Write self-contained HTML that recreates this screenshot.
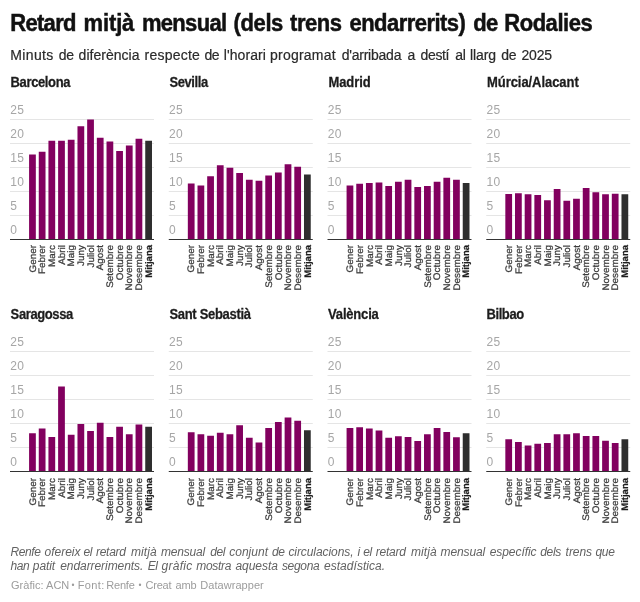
<!DOCTYPE html>
<html lang="ca"><head><meta charset="utf-8"><title>Retard mitjà mensual</title>
<style>
html,body{margin:0;padding:0;background:#fff;}
body{width:640px;height:602px;position:relative;overflow:hidden;font-family:"Liberation Sans",sans-serif;}
.t{position:absolute;white-space:nowrap;line-height:1;margin:0;}
.wl span{position:absolute;top:0;white-space:pre;}
.h1{font-weight:700;font-size:22px;color:#111;-webkit-text-stroke:0.45px #111;}
.sub{font-size:14px;color:#2a2a2a;-webkit-text-stroke:0.2px #2a2a2a;}
.pt{font-weight:700;font-size:13px;color:#1c1c1c;-webkit-text-stroke:0.25px #1c1c1c;}
.ax{font-size:12px;color:#a6a6a6;letter-spacing:0.4px;}
.gl{position:absolute;height:1px;background:#e2e2e2;}
.zl{position:absolute;height:1px;background:#333;}
.b{position:absolute;background:#82005f;}
.b.m{background:#2e2e2e;}
.xl{position:absolute;white-space:nowrap;text-rendering:geometricPrecision;-webkit-text-stroke:0.25px #3a3a3a;font-size:9.5px;line-height:10px;height:10px;color:#3a3a3a;transform-origin:0 0;transform:rotate(-90deg) scaleX(1.04) translateX(-100%);}
.xl.m{font-weight:700;color:#1d1d1d;-webkit-text-stroke:0.2px #1d1d1d;transform:rotate(-90deg) scaleX(1.0) translateX(-100%);}
.note{font-style:italic;font-size:12px;color:#626262;}
.foot{font-size:11px;color:#9c9c9c;}
</style></head><body>
<svg width="640" height="602" viewBox="0 0 640 602" style="position:absolute;left:0;top:0">
<rect x="10.00" y="119" width="144" height="1" fill="#e5e5e5"/>
<rect x="10.00" y="143" width="144" height="1" fill="#e5e5e5"/>
<rect x="10.00" y="167" width="144" height="1" fill="#e5e5e5"/>
<rect x="10.00" y="191" width="144" height="1" fill="#e5e5e5"/>
<rect x="10.00" y="215" width="144" height="1" fill="#e5e5e5"/>
<rect x="29.08" y="154.50" width="6.75" height="84.50" fill="#82005f"/>
<rect x="38.76" y="151.75" width="6.75" height="87.25" fill="#82005f"/>
<rect x="48.44" y="140.75" width="6.75" height="98.25" fill="#82005f"/>
<rect x="58.12" y="140.75" width="6.75" height="98.25" fill="#82005f"/>
<rect x="67.80" y="139.75" width="6.75" height="99.25" fill="#82005f"/>
<rect x="77.48" y="126.25" width="6.75" height="112.75" fill="#82005f"/>
<rect x="87.16" y="119.50" width="6.75" height="119.50" fill="#82005f"/>
<rect x="96.84" y="137.75" width="6.75" height="101.25" fill="#82005f"/>
<rect x="106.52" y="141.50" width="6.75" height="97.50" fill="#82005f"/>
<rect x="116.20" y="151.00" width="6.75" height="88.00" fill="#82005f"/>
<rect x="125.88" y="145.50" width="6.75" height="93.50" fill="#82005f"/>
<rect x="135.56" y="138.75" width="6.75" height="100.25" fill="#82005f"/>
<rect x="145.24" y="140.75" width="6.75" height="98.25" fill="#2e2e2e"/>
<rect x="10.00" y="239" width="144" height="1" fill="#333"/>
<rect x="168.75" y="119" width="144" height="1" fill="#e5e5e5"/>
<rect x="168.75" y="143" width="144" height="1" fill="#e5e5e5"/>
<rect x="168.75" y="167" width="144" height="1" fill="#e5e5e5"/>
<rect x="168.75" y="191" width="144" height="1" fill="#e5e5e5"/>
<rect x="168.75" y="215" width="144" height="1" fill="#e5e5e5"/>
<rect x="187.83" y="183.50" width="6.75" height="55.50" fill="#82005f"/>
<rect x="197.51" y="185.50" width="6.75" height="53.50" fill="#82005f"/>
<rect x="207.19" y="176.25" width="6.75" height="62.75" fill="#82005f"/>
<rect x="216.87" y="165.25" width="6.75" height="73.75" fill="#82005f"/>
<rect x="226.55" y="167.75" width="6.75" height="71.25" fill="#82005f"/>
<rect x="236.23" y="173.00" width="6.75" height="66.00" fill="#82005f"/>
<rect x="245.91" y="179.75" width="6.75" height="59.25" fill="#82005f"/>
<rect x="255.59" y="180.75" width="6.75" height="58.25" fill="#82005f"/>
<rect x="265.27" y="175.50" width="6.75" height="63.50" fill="#82005f"/>
<rect x="274.95" y="172.50" width="6.75" height="66.50" fill="#82005f"/>
<rect x="284.63" y="164.25" width="6.75" height="74.75" fill="#82005f"/>
<rect x="294.31" y="166.75" width="6.75" height="72.25" fill="#82005f"/>
<rect x="303.99" y="174.50" width="6.75" height="64.50" fill="#2e2e2e"/>
<rect x="168.75" y="239" width="144" height="1" fill="#333"/>
<rect x="327.50" y="119" width="144" height="1" fill="#e5e5e5"/>
<rect x="327.50" y="143" width="144" height="1" fill="#e5e5e5"/>
<rect x="327.50" y="167" width="144" height="1" fill="#e5e5e5"/>
<rect x="327.50" y="191" width="144" height="1" fill="#e5e5e5"/>
<rect x="327.50" y="215" width="144" height="1" fill="#e5e5e5"/>
<rect x="346.58" y="185.50" width="6.75" height="53.50" fill="#82005f"/>
<rect x="356.26" y="183.75" width="6.75" height="55.25" fill="#82005f"/>
<rect x="365.94" y="183.00" width="6.75" height="56.00" fill="#82005f"/>
<rect x="375.62" y="182.50" width="6.75" height="56.50" fill="#82005f"/>
<rect x="385.30" y="186.00" width="6.75" height="53.00" fill="#82005f"/>
<rect x="394.98" y="181.75" width="6.75" height="57.25" fill="#82005f"/>
<rect x="404.66" y="179.75" width="6.75" height="59.25" fill="#82005f"/>
<rect x="414.34" y="187.00" width="6.75" height="52.00" fill="#82005f"/>
<rect x="424.02" y="186.00" width="6.75" height="53.00" fill="#82005f"/>
<rect x="433.70" y="181.75" width="6.75" height="57.25" fill="#82005f"/>
<rect x="443.38" y="177.75" width="6.75" height="61.25" fill="#82005f"/>
<rect x="453.06" y="179.75" width="6.75" height="59.25" fill="#82005f"/>
<rect x="462.74" y="183.00" width="6.75" height="56.00" fill="#2e2e2e"/>
<rect x="327.50" y="239" width="144" height="1" fill="#333"/>
<rect x="486.25" y="119" width="144" height="1" fill="#e5e5e5"/>
<rect x="486.25" y="143" width="144" height="1" fill="#e5e5e5"/>
<rect x="486.25" y="167" width="144" height="1" fill="#e5e5e5"/>
<rect x="486.25" y="191" width="144" height="1" fill="#e5e5e5"/>
<rect x="486.25" y="215" width="144" height="1" fill="#e5e5e5"/>
<rect x="505.33" y="194.00" width="6.75" height="45.00" fill="#82005f"/>
<rect x="515.01" y="193.25" width="6.75" height="45.75" fill="#82005f"/>
<rect x="524.69" y="194.25" width="6.75" height="44.75" fill="#82005f"/>
<rect x="534.37" y="195.00" width="6.75" height="44.00" fill="#82005f"/>
<rect x="544.05" y="200.25" width="6.75" height="38.75" fill="#82005f"/>
<rect x="553.73" y="189.00" width="6.75" height="50.00" fill="#82005f"/>
<rect x="563.41" y="200.75" width="6.75" height="38.25" fill="#82005f"/>
<rect x="573.09" y="198.75" width="6.75" height="40.25" fill="#82005f"/>
<rect x="582.77" y="188.00" width="6.75" height="51.00" fill="#82005f"/>
<rect x="592.45" y="192.25" width="6.75" height="46.75" fill="#82005f"/>
<rect x="602.13" y="194.25" width="6.75" height="44.75" fill="#82005f"/>
<rect x="611.81" y="193.75" width="6.75" height="45.25" fill="#82005f"/>
<rect x="621.49" y="194.25" width="6.75" height="44.75" fill="#2e2e2e"/>
<rect x="486.25" y="239" width="144" height="1" fill="#333"/>
<rect x="10.00" y="351" width="144" height="1" fill="#e5e5e5"/>
<rect x="10.00" y="375" width="144" height="1" fill="#e5e5e5"/>
<rect x="10.00" y="399" width="144" height="1" fill="#e5e5e5"/>
<rect x="10.00" y="423" width="144" height="1" fill="#e5e5e5"/>
<rect x="10.00" y="447" width="144" height="1" fill="#e5e5e5"/>
<rect x="29.08" y="433.25" width="6.75" height="37.75" fill="#82005f"/>
<rect x="38.76" y="428.50" width="6.75" height="42.50" fill="#82005f"/>
<rect x="48.44" y="437.00" width="6.75" height="34.00" fill="#82005f"/>
<rect x="58.12" y="386.50" width="6.75" height="84.50" fill="#82005f"/>
<rect x="67.80" y="434.75" width="6.75" height="36.25" fill="#82005f"/>
<rect x="77.48" y="424.00" width="6.75" height="47.00" fill="#82005f"/>
<rect x="87.16" y="431.00" width="6.75" height="40.00" fill="#82005f"/>
<rect x="96.84" y="422.75" width="6.75" height="48.25" fill="#82005f"/>
<rect x="106.52" y="437.00" width="6.75" height="34.00" fill="#82005f"/>
<rect x="116.20" y="426.75" width="6.75" height="44.25" fill="#82005f"/>
<rect x="125.88" y="434.25" width="6.75" height="36.75" fill="#82005f"/>
<rect x="135.56" y="424.50" width="6.75" height="46.50" fill="#82005f"/>
<rect x="145.24" y="426.75" width="6.75" height="44.25" fill="#2e2e2e"/>
<rect x="10.00" y="471" width="144" height="1" fill="#333"/>
<rect x="168.75" y="351" width="144" height="1" fill="#e5e5e5"/>
<rect x="168.75" y="375" width="144" height="1" fill="#e5e5e5"/>
<rect x="168.75" y="399" width="144" height="1" fill="#e5e5e5"/>
<rect x="168.75" y="423" width="144" height="1" fill="#e5e5e5"/>
<rect x="168.75" y="447" width="144" height="1" fill="#e5e5e5"/>
<rect x="187.83" y="432.25" width="6.75" height="38.75" fill="#82005f"/>
<rect x="197.51" y="434.25" width="6.75" height="36.75" fill="#82005f"/>
<rect x="207.19" y="435.75" width="6.75" height="35.25" fill="#82005f"/>
<rect x="216.87" y="432.75" width="6.75" height="38.25" fill="#82005f"/>
<rect x="226.55" y="434.25" width="6.75" height="36.75" fill="#82005f"/>
<rect x="236.23" y="425.25" width="6.75" height="45.75" fill="#82005f"/>
<rect x="245.91" y="437.75" width="6.75" height="33.25" fill="#82005f"/>
<rect x="255.59" y="442.50" width="6.75" height="28.50" fill="#82005f"/>
<rect x="265.27" y="428.00" width="6.75" height="43.00" fill="#82005f"/>
<rect x="274.95" y="422.00" width="6.75" height="49.00" fill="#82005f"/>
<rect x="284.63" y="417.50" width="6.75" height="53.50" fill="#82005f"/>
<rect x="294.31" y="420.75" width="6.75" height="50.25" fill="#82005f"/>
<rect x="303.99" y="430.25" width="6.75" height="40.75" fill="#2e2e2e"/>
<rect x="168.75" y="471" width="144" height="1" fill="#333"/>
<rect x="327.50" y="351" width="144" height="1" fill="#e5e5e5"/>
<rect x="327.50" y="375" width="144" height="1" fill="#e5e5e5"/>
<rect x="327.50" y="399" width="144" height="1" fill="#e5e5e5"/>
<rect x="327.50" y="423" width="144" height="1" fill="#e5e5e5"/>
<rect x="327.50" y="447" width="144" height="1" fill="#e5e5e5"/>
<rect x="346.58" y="428.00" width="6.75" height="43.00" fill="#82005f"/>
<rect x="356.26" y="427.25" width="6.75" height="43.75" fill="#82005f"/>
<rect x="365.94" y="428.50" width="6.75" height="42.50" fill="#82005f"/>
<rect x="375.62" y="430.50" width="6.75" height="40.50" fill="#82005f"/>
<rect x="385.30" y="437.75" width="6.75" height="33.25" fill="#82005f"/>
<rect x="394.98" y="436.25" width="6.75" height="34.75" fill="#82005f"/>
<rect x="404.66" y="437.00" width="6.75" height="34.00" fill="#82005f"/>
<rect x="414.34" y="441.00" width="6.75" height="30.00" fill="#82005f"/>
<rect x="424.02" y="434.25" width="6.75" height="36.75" fill="#82005f"/>
<rect x="433.70" y="428.00" width="6.75" height="43.00" fill="#82005f"/>
<rect x="443.38" y="432.00" width="6.75" height="39.00" fill="#82005f"/>
<rect x="453.06" y="437.25" width="6.75" height="33.75" fill="#82005f"/>
<rect x="462.74" y="433.25" width="6.75" height="37.75" fill="#2e2e2e"/>
<rect x="327.50" y="471" width="144" height="1" fill="#333"/>
<rect x="486.25" y="351" width="144" height="1" fill="#e5e5e5"/>
<rect x="486.25" y="375" width="144" height="1" fill="#e5e5e5"/>
<rect x="486.25" y="399" width="144" height="1" fill="#e5e5e5"/>
<rect x="486.25" y="423" width="144" height="1" fill="#e5e5e5"/>
<rect x="486.25" y="447" width="144" height="1" fill="#e5e5e5"/>
<rect x="505.33" y="439.25" width="6.75" height="31.75" fill="#82005f"/>
<rect x="515.01" y="442.00" width="6.75" height="29.00" fill="#82005f"/>
<rect x="524.69" y="445.50" width="6.75" height="25.50" fill="#82005f"/>
<rect x="534.37" y="443.75" width="6.75" height="27.25" fill="#82005f"/>
<rect x="544.05" y="443.00" width="6.75" height="28.00" fill="#82005f"/>
<rect x="553.73" y="434.25" width="6.75" height="36.75" fill="#82005f"/>
<rect x="563.41" y="434.25" width="6.75" height="36.75" fill="#82005f"/>
<rect x="573.09" y="433.25" width="6.75" height="37.75" fill="#82005f"/>
<rect x="582.77" y="436.00" width="6.75" height="35.00" fill="#82005f"/>
<rect x="592.45" y="436.00" width="6.75" height="35.00" fill="#82005f"/>
<rect x="602.13" y="440.75" width="6.75" height="30.25" fill="#82005f"/>
<rect x="611.81" y="443.00" width="6.75" height="28.00" fill="#82005f"/>
<rect x="621.49" y="439.25" width="6.75" height="31.75" fill="#2e2e2e"/>
<rect x="486.25" y="471" width="144" height="1" fill="#333"/>
</svg>
<div class="t wl h1" style="left:0;top:11.88px;width:640px;height:22px;transform-origin:0 3.1px;transform:translateY(0.25px) scaleY(1.045);"><span style="left:10.25px;letter-spacing:-0.700px">Retard </span><span style="left:83.50px;letter-spacing:-0.125px">mitjà </span><span style="left:141.97px;letter-spacing:-0.700px">mensual </span><span style="left:233.50px;letter-spacing:-0.375px">(dels </span><span style="left:290.00px;letter-spacing:-0.438px">trens </span><span style="left:349.50px;letter-spacing:-0.536px">endarrerits) </span><span style="left:473.15px;letter-spacing:-0.700px">de </span><span style="left:504.20px;letter-spacing:-0.443px">Rodalies </span></div>
<div class="t wl sub" style="left:0;top:48.15px;width:640px;height:14px;"><span style="left:10.25px;letter-spacing:0.370px">Minuts </span><span style="left:58.75px;letter-spacing:-0.400px">de </span><span style="left:78.60px;letter-spacing:0.022px">diferència </span><span style="left:144.50px;letter-spacing:0.229px">respecte </span><span style="left:204.40px;letter-spacing:-0.400px">de </span><span style="left:223.70px;letter-spacing:0.086px">l'horari </span><span style="left:270.10px;letter-spacing:0.212px">programat </span><span style="left:341.70px;letter-spacing:-0.233px">d'arribada </span><span style="left:407.40px;letter-spacing:0.000px">a </span><span style="left:420.60px;letter-spacing:-0.375px">destí </span><span style="left:455.30px;letter-spacing:-0.300px">al </span><span style="left:469.90px;letter-spacing:-0.075px">llarg </span><span style="left:501.30px;letter-spacing:-0.400px">de </span><span style="left:521.50px;letter-spacing:-0.167px">2025 </span></div>
<div class="t wl pt" style="left:0;top:75.70px;width:640px;height:13px;transform-origin:0 3px;transform:scaleY(1.06);"><span style="left:10.60px;letter-spacing:-0.375px">Barcelona </span></div>
<div class="t ax" style="left:10.30px;top:103.84px;">25</div>
<div class="t ax" style="left:10.30px;top:127.84px;">20</div>
<div class="t ax" style="left:10.30px;top:151.84px;">15</div>
<div class="t ax" style="left:10.30px;top:175.84px;">10</div>
<div class="t ax" style="left:10.30px;top:199.84px;">5</div>
<div class="t ax" style="left:10.30px;top:223.84px;">0</div>
<div class="xl" style="left:28.65px;top:245.00px">Gener</div>
<div class="xl" style="left:38.34px;top:245.00px">Febrer</div>
<div class="xl" style="left:48.02px;top:245.00px">Marc</div>
<div class="xl" style="left:57.70px;top:245.00px">Abril</div>
<div class="xl" style="left:67.38px;top:245.00px">Maig</div>
<div class="xl" style="left:77.05px;top:245.00px">Juny</div>
<div class="xl" style="left:86.73px;top:245.00px">Juliol</div>
<div class="xl" style="left:96.41px;top:245.00px">Agost</div>
<div class="xl" style="left:106.09px;top:245.00px">Setembre</div>
<div class="xl" style="left:115.78px;top:245.00px">Octubre</div>
<div class="xl" style="left:125.45px;top:245.00px">Novembre</div>
<div class="xl" style="left:135.13px;top:245.00px">Desembre</div>
<div class="xl m" style="left:144.81px;top:245.00px">Mitjana</div>
<div class="t wl pt" style="left:0;top:75.70px;width:640px;height:13px;transform-origin:0 3px;transform:scaleY(1.06);"><span style="left:169.40px;letter-spacing:-0.400px">Sevilla </span></div>
<div class="t ax" style="left:169.05px;top:103.84px;">25</div>
<div class="t ax" style="left:169.05px;top:127.84px;">20</div>
<div class="t ax" style="left:169.05px;top:151.84px;">15</div>
<div class="t ax" style="left:169.05px;top:175.84px;">10</div>
<div class="t ax" style="left:169.05px;top:199.84px;">5</div>
<div class="t ax" style="left:169.05px;top:223.84px;">0</div>
<div class="xl" style="left:187.40px;top:245.00px">Gener</div>
<div class="xl" style="left:197.08px;top:245.00px">Febrer</div>
<div class="xl" style="left:206.76px;top:245.00px">Marc</div>
<div class="xl" style="left:216.44px;top:245.00px">Abril</div>
<div class="xl" style="left:226.12px;top:245.00px">Maig</div>
<div class="xl" style="left:235.80px;top:245.00px">Juny</div>
<div class="xl" style="left:245.48px;top:245.00px">Juliol</div>
<div class="xl" style="left:255.16px;top:245.00px">Agost</div>
<div class="xl" style="left:264.84px;top:245.00px">Setembre</div>
<div class="xl" style="left:274.52px;top:245.00px">Octubre</div>
<div class="xl" style="left:284.20px;top:245.00px">Novembre</div>
<div class="xl" style="left:293.88px;top:245.00px">Desembre</div>
<div class="xl m" style="left:303.56px;top:245.00px">Mitjana</div>
<div class="t wl pt" style="left:0;top:75.70px;width:640px;height:13px;transform-origin:0 3px;transform:scaleY(1.06);"><span style="left:328.50px;letter-spacing:-0.100px">Madrid </span></div>
<div class="t ax" style="left:327.80px;top:103.84px;">25</div>
<div class="t ax" style="left:327.80px;top:127.84px;">20</div>
<div class="t ax" style="left:327.80px;top:151.84px;">15</div>
<div class="t ax" style="left:327.80px;top:175.84px;">10</div>
<div class="t ax" style="left:327.80px;top:199.84px;">5</div>
<div class="t ax" style="left:327.80px;top:223.84px;">0</div>
<div class="xl" style="left:346.15px;top:245.00px">Gener</div>
<div class="xl" style="left:355.83px;top:245.00px">Febrer</div>
<div class="xl" style="left:365.51px;top:245.00px">Marc</div>
<div class="xl" style="left:375.19px;top:245.00px">Abril</div>
<div class="xl" style="left:384.87px;top:245.00px">Maig</div>
<div class="xl" style="left:394.55px;top:245.00px">Juny</div>
<div class="xl" style="left:404.23px;top:245.00px">Juliol</div>
<div class="xl" style="left:413.91px;top:245.00px">Agost</div>
<div class="xl" style="left:423.59px;top:245.00px">Setembre</div>
<div class="xl" style="left:433.27px;top:245.00px">Octubre</div>
<div class="xl" style="left:442.95px;top:245.00px">Novembre</div>
<div class="xl" style="left:452.63px;top:245.00px">Desembre</div>
<div class="xl m" style="left:462.31px;top:245.00px">Mitjana</div>
<div class="t wl pt" style="left:0;top:75.70px;width:640px;height:13px;transform-origin:0 3px;transform:scaleY(1.06);"><span style="left:487.00px;letter-spacing:-0.058px">Múrcia/Alacant </span></div>
<div class="t ax" style="left:486.55px;top:103.84px;">25</div>
<div class="t ax" style="left:486.55px;top:127.84px;">20</div>
<div class="t ax" style="left:486.55px;top:151.84px;">15</div>
<div class="t ax" style="left:486.55px;top:175.84px;">10</div>
<div class="t ax" style="left:486.55px;top:199.84px;">5</div>
<div class="t ax" style="left:486.55px;top:223.84px;">0</div>
<div class="xl" style="left:504.90px;top:245.00px">Gener</div>
<div class="xl" style="left:514.59px;top:245.00px">Febrer</div>
<div class="xl" style="left:524.26px;top:245.00px">Marc</div>
<div class="xl" style="left:533.95px;top:245.00px">Abril</div>
<div class="xl" style="left:543.62px;top:245.00px">Maig</div>
<div class="xl" style="left:553.31px;top:245.00px">Juny</div>
<div class="xl" style="left:562.99px;top:245.00px">Juliol</div>
<div class="xl" style="left:572.66px;top:245.00px">Agost</div>
<div class="xl" style="left:582.35px;top:245.00px">Setembre</div>
<div class="xl" style="left:592.03px;top:245.00px">Octubre</div>
<div class="xl" style="left:601.71px;top:245.00px">Novembre</div>
<div class="xl" style="left:611.38px;top:245.00px">Desembre</div>
<div class="xl m" style="left:621.07px;top:245.00px">Mitjana</div>
<div class="t wl pt" style="left:0;top:307.80px;width:640px;height:13px;transform-origin:0 3px;transform:scaleY(1.06);"><span style="left:10.60px;letter-spacing:-0.388px">Saragossa </span></div>
<div class="t ax" style="left:10.30px;top:335.84px;">25</div>
<div class="t ax" style="left:10.30px;top:359.84px;">20</div>
<div class="t ax" style="left:10.30px;top:383.84px;">15</div>
<div class="t ax" style="left:10.30px;top:407.84px;">10</div>
<div class="t ax" style="left:10.30px;top:431.84px;">5</div>
<div class="t ax" style="left:10.30px;top:455.84px;">0</div>
<div class="xl" style="left:28.65px;top:477.50px">Gener</div>
<div class="xl" style="left:38.34px;top:477.50px">Febrer</div>
<div class="xl" style="left:48.02px;top:477.50px">Marc</div>
<div class="xl" style="left:57.70px;top:477.50px">Abril</div>
<div class="xl" style="left:67.38px;top:477.50px">Maig</div>
<div class="xl" style="left:77.05px;top:477.50px">Juny</div>
<div class="xl" style="left:86.73px;top:477.50px">Juliol</div>
<div class="xl" style="left:96.41px;top:477.50px">Agost</div>
<div class="xl" style="left:106.09px;top:477.50px">Setembre</div>
<div class="xl" style="left:115.78px;top:477.50px">Octubre</div>
<div class="xl" style="left:125.45px;top:477.50px">Novembre</div>
<div class="xl" style="left:135.13px;top:477.50px">Desembre</div>
<div class="xl m" style="left:144.81px;top:477.50px">Mitjana</div>
<div class="t wl pt" style="left:0;top:307.80px;width:640px;height:13px;transform-origin:0 3px;transform:scaleY(1.06);"><span style="left:169.40px;letter-spacing:-0.308px">Sant Sebastià </span></div>
<div class="t ax" style="left:169.05px;top:335.84px;">25</div>
<div class="t ax" style="left:169.05px;top:359.84px;">20</div>
<div class="t ax" style="left:169.05px;top:383.84px;">15</div>
<div class="t ax" style="left:169.05px;top:407.84px;">10</div>
<div class="t ax" style="left:169.05px;top:431.84px;">5</div>
<div class="t ax" style="left:169.05px;top:455.84px;">0</div>
<div class="xl" style="left:187.40px;top:477.50px">Gener</div>
<div class="xl" style="left:197.08px;top:477.50px">Febrer</div>
<div class="xl" style="left:206.76px;top:477.50px">Marc</div>
<div class="xl" style="left:216.44px;top:477.50px">Abril</div>
<div class="xl" style="left:226.12px;top:477.50px">Maig</div>
<div class="xl" style="left:235.80px;top:477.50px">Juny</div>
<div class="xl" style="left:245.48px;top:477.50px">Juliol</div>
<div class="xl" style="left:255.16px;top:477.50px">Agost</div>
<div class="xl" style="left:264.84px;top:477.50px">Setembre</div>
<div class="xl" style="left:274.52px;top:477.50px">Octubre</div>
<div class="xl" style="left:284.20px;top:477.50px">Novembre</div>
<div class="xl" style="left:293.88px;top:477.50px">Desembre</div>
<div class="xl m" style="left:303.56px;top:477.50px">Mitjana</div>
<div class="t wl pt" style="left:0;top:307.80px;width:640px;height:13px;transform-origin:0 3px;transform:scaleY(1.06);"><span style="left:328.10px;letter-spacing:-0.193px">València </span></div>
<div class="t ax" style="left:327.80px;top:335.84px;">25</div>
<div class="t ax" style="left:327.80px;top:359.84px;">20</div>
<div class="t ax" style="left:327.80px;top:383.84px;">15</div>
<div class="t ax" style="left:327.80px;top:407.84px;">10</div>
<div class="t ax" style="left:327.80px;top:431.84px;">5</div>
<div class="t ax" style="left:327.80px;top:455.84px;">0</div>
<div class="xl" style="left:346.15px;top:477.50px">Gener</div>
<div class="xl" style="left:355.83px;top:477.50px">Febrer</div>
<div class="xl" style="left:365.51px;top:477.50px">Marc</div>
<div class="xl" style="left:375.19px;top:477.50px">Abril</div>
<div class="xl" style="left:384.87px;top:477.50px">Maig</div>
<div class="xl" style="left:394.55px;top:477.50px">Juny</div>
<div class="xl" style="left:404.23px;top:477.50px">Juliol</div>
<div class="xl" style="left:413.91px;top:477.50px">Agost</div>
<div class="xl" style="left:423.59px;top:477.50px">Setembre</div>
<div class="xl" style="left:433.27px;top:477.50px">Octubre</div>
<div class="xl" style="left:442.95px;top:477.50px">Novembre</div>
<div class="xl" style="left:452.63px;top:477.50px">Desembre</div>
<div class="xl m" style="left:462.31px;top:477.50px">Mitjana</div>
<div class="t wl pt" style="left:0;top:307.80px;width:640px;height:13px;transform-origin:0 3px;transform:scaleY(1.06);"><span style="left:486.45px;letter-spacing:-0.400px">Bilbao </span></div>
<div class="t ax" style="left:486.55px;top:335.84px;">25</div>
<div class="t ax" style="left:486.55px;top:359.84px;">20</div>
<div class="t ax" style="left:486.55px;top:383.84px;">15</div>
<div class="t ax" style="left:486.55px;top:407.84px;">10</div>
<div class="t ax" style="left:486.55px;top:431.84px;">5</div>
<div class="t ax" style="left:486.55px;top:455.84px;">0</div>
<div class="xl" style="left:504.90px;top:477.50px">Gener</div>
<div class="xl" style="left:514.59px;top:477.50px">Febrer</div>
<div class="xl" style="left:524.26px;top:477.50px">Marc</div>
<div class="xl" style="left:533.95px;top:477.50px">Abril</div>
<div class="xl" style="left:543.62px;top:477.50px">Maig</div>
<div class="xl" style="left:553.31px;top:477.50px">Juny</div>
<div class="xl" style="left:562.99px;top:477.50px">Juliol</div>
<div class="xl" style="left:572.66px;top:477.50px">Agost</div>
<div class="xl" style="left:582.35px;top:477.50px">Setembre</div>
<div class="xl" style="left:592.03px;top:477.50px">Octubre</div>
<div class="xl" style="left:601.71px;top:477.50px">Novembre</div>
<div class="xl" style="left:611.38px;top:477.50px">Desembre</div>
<div class="xl m" style="left:621.07px;top:477.50px">Mitjana</div>
<div class="t wl note" style="left:0;top:546.34px;width:640px;height:12px;"><span style="left:10.55px;letter-spacing:-0.400px">Renfe </span><span style="left:44.50px;letter-spacing:0.000px">ofereix </span><span style="left:83.50px;letter-spacing:-0.400px">el </span><span style="left:95.90px;letter-spacing:-0.240px">retard </span><span style="left:130.90px;letter-spacing:0.125px">mitjà </span><span style="left:161.10px;letter-spacing:-0.217px">mensual </span><span style="left:210.30px;letter-spacing:-0.400px">del </span><span style="left:229.20px;letter-spacing:0.017px">conjunt </span><span style="left:272.00px;letter-spacing:-0.400px">de </span><span style="left:288.40px;letter-spacing:-0.075px">circulacions, </span><span style="left:357.45px;letter-spacing:0.000px">i </span><span style="left:363.18px;letter-spacing:-0.400px">el </span><span style="left:375.80px;letter-spacing:-0.240px">retard </span><span style="left:410.90px;letter-spacing:0.088px">mitjà </span><span style="left:440.50px;letter-spacing:-0.117px">mensual </span><span style="left:489.70px;letter-spacing:-0.056px">específic </span><span style="left:540.30px;letter-spacing:-0.350px">dels </span><span style="left:565.60px;letter-spacing:-0.050px">trens </span><span style="left:595.60px;letter-spacing:-0.400px">que </span></div>
<div class="t wl note" style="left:0;top:560.24px;width:640px;height:12px;"><span style="left:10.40px;letter-spacing:-0.400px">han </span><span style="left:32.80px;letter-spacing:-0.075px">patit </span><span style="left:60.20px;letter-spacing:-0.064px">endarreriments. </span><span style="left:147.70px;letter-spacing:-0.400px">El </span><span style="left:161.50px;letter-spacing:0.280px">gràfic </span><span style="left:196.30px;letter-spacing:-0.300px">mostra </span><span style="left:235.50px;letter-spacing:-0.050px">aquesta </span><span style="left:281.90px;letter-spacing:-0.300px">segona </span><span style="left:324.00px;letter-spacing:0.036px">estadística. </span></div>
<div class="t wl foot" style="left:0;top:580.19px;width:640px;height:11px;"><span style="left:10.90px;letter-spacing:0.050px">Gràfic: </span><span style="left:46.10px;letter-spacing:-0.050px">ACN </span><span style="left:71.50px;font-size:8.5px;top:1.1px">• </span><span style="left:77.65px;letter-spacing:0.400px">Font: </span><span style="left:106.20px;letter-spacing:-0.175px">Renfe </span><span style="left:138.38px;font-size:8.5px;top:1.1px">• </span><span style="left:145.50px;letter-spacing:-0.225px">Creat </span><span style="left:175.50px;letter-spacing:-0.125px">amb </span><span style="left:200.25px;letter-spacing:0.050px">Datawrapper </span></div>
</body></html>
